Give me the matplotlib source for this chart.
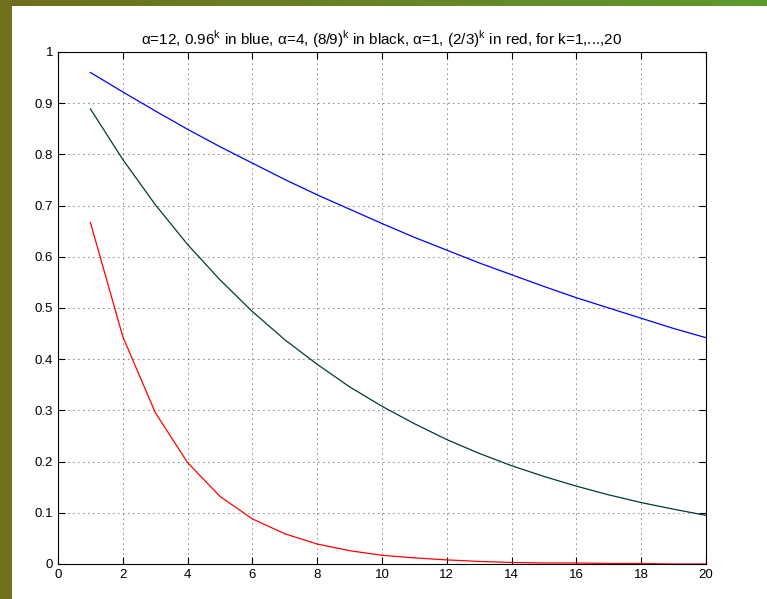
import matplotlib
matplotlib.use("Agg")
import matplotlib.pyplot as plt
import numpy as np

plt.rcParams['font.family'] = ['Liberation Sans', 'DejaVu Sans']
plt.rcParams['mathtext.fontset'] = 'custom'
plt.rcParams['mathtext.rm'] = 'Liberation Sans'

# values, k = 1..20
k = list(range(1, 21))
blue_vals = [0.960, 0.922, 0.885, 0.849, 0.815, 0.783, 0.751, 0.721, 0.693, 0.665,
             0.638, 0.613, 0.588, 0.565, 0.542, 0.520, 0.500, 0.480, 0.460, 0.442]
black_vals = [0.889, 0.790, 0.702, 0.624, 0.555, 0.493, 0.438, 0.390, 0.346, 0.308,
              0.274, 0.243, 0.216, 0.192, 0.171, 0.152, 0.135, 0.120, 0.107, 0.095]
red_vals = [0.667, 0.444, 0.296, 0.198, 0.132, 0.088, 0.059, 0.039, 0.026, 0.017,
            0.012, 0.008, 0.005, 0.003, 0.002, 0.002, 0.001, 0.001, 0.000, 0.000]

title = (u'\u03b1=12, 0.96$^{\\rm k}$ in blue, \u03b1=4, (8/9)$^{\\rm k}$ in black, '
         u'\u03b1=1, (2/3)$^{\\rm k}$ in red, for k=1,...,20')

fig = plt.figure(figsize=(7.67, 5.99), dpi=100)
fig.patch.set_facecolor('white')

# slide-like border: gradient strip on top, olive strip on the left
top = fig.add_axes([0, 1 - 6 / 599, 1, 6 / 599])
grad = np.linspace(0, 1, 256).reshape(1, -1)
cmap = matplotlib.colors.LinearSegmentedColormap.from_list('band', ['#6e6e1c', '#5e9a2e'])
top.imshow(grad, aspect='auto', cmap=cmap)
top.axis('off')
left = fig.add_axes([0, 0, 12 / 767, 1])
left.set_facecolor('#6f6f1c')
left.set_xticks([])
left.set_yticks([])
for s in left.spines.values():
    s.set_visible(False)

ax = fig.add_axes([58 / 767, 35 / 599, 648 / 767, 512 / 599])
ax.plot(k, blue_vals, color='#0000ff', lw=0.9)
ax.plot(k, black_vals, color='#003a3a', lw=0.9)
ax.plot(k, red_vals, color='#ff0000', lw=0.9)

ax.set_xlim(0, 20)
ax.set_ylim(0, 1)
ax.set_xticks(range(0, 21, 2))
ax.set_yticks([i / 10 for i in range(11)])
ax.set_yticklabels(['0', '0.1', '0.2', '0.3', '0.4', '0.5', '0.6', '0.7', '0.8', '0.9', '1'])
ax.tick_params(direction='in', top=True, right=True, labelsize=9.5, length=5, width=0.8)
ax.grid(True, color='black', linestyle=(0, (1, 5)), linewidth=0.6)
for s in ax.spines.values():
    s.set_linewidth(0.8)
ax.set_title(title, fontsize=11, pad=5)

fig.savefig('out.png', dpi=100)
